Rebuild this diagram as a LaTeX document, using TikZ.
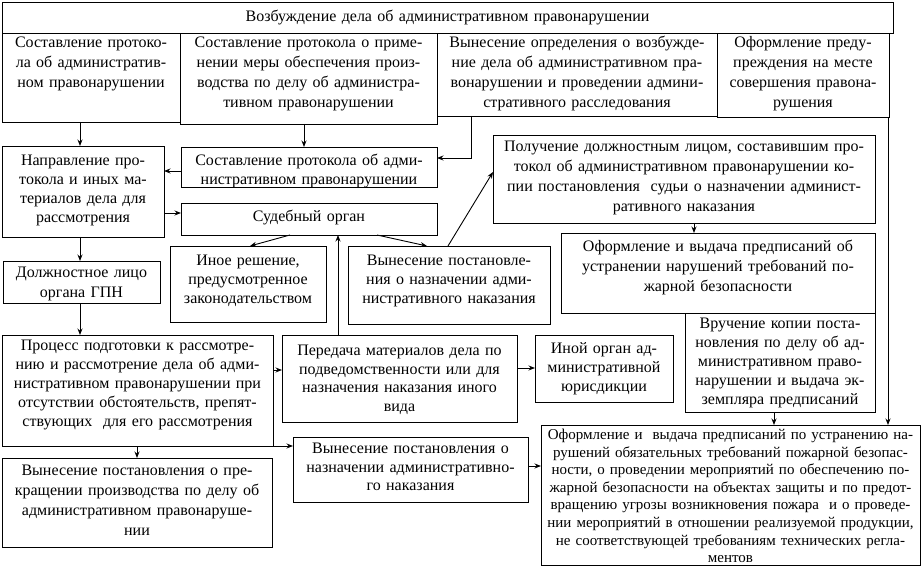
\documentclass[tikz,border=0pt]{standalone}
\usepackage{fontspec}
\setmainfont{Liberation Serif}
\usetikzlibrary{arrows.meta,calc}
\begin{document}
\begin{tikzpicture}[x=1pt,y=-1pt,
  bx/.style={draw, line width=0.9pt, inner sep=0pt, outer sep=0pt, anchor=north west},
  tx/.style={align=center, text width=430pt, inner sep=0pt, anchor=base},
  arr/.style={line width=0.9pt, -{Stealth[length=6.5pt,width=5pt]}},
  fa/.style={font=\fontsize{16}{20}\selectfont},
  fb/.style={font=\fontsize{16}{19}\selectfont},
  fc/.style={font=\fontsize{16}{18.5}\selectfont},
  fj/.style={font=\fontsize{15}{17.6}\selectfont}]
\useasboundingbox (0,0) rectangle (922,567);
% boxes
\node[bx, minimum width=891pt, minimum height=31pt] (top) at (2,2) {};
\node[bx, minimum width=178pt, minimum height=89pt] (A) at (2,33) {};
\node[bx, minimum width=257pt, minimum height=91pt] (B) at (180,33) {};
\node[bx, minimum width=280pt, minimum height=83pt] (C) at (437,33) {};
\node[bx, minimum width=172pt, minimum height=84pt] (D) at (717,33) {};
\node[bx, minimum width=162pt, minimum height=91pt] (E) at (2,146) {};
\node[bx, minimum width=256pt, minimum height=40pt] (F) at (181,147) {};
\node[bx, minimum width=256pt, minimum height=32pt] (S) at (181,203) {};
\node[bx, minimum width=382pt, minimum height=88pt] (G) at (493,135) {};
\node[bx, minimum width=314pt, minimum height=80pt] (H) at (561,233) {};
\node[bx, minimum width=156pt, minimum height=76pt] (N) at (170,246) {};
\node[bx, minimum width=202pt, minimum height=78pt] (V) at (348,246) {};
\node[bx, minimum width=157pt, minimum height=42pt] (Dl) at (3,261) {};
\node[bx, minimum width=190pt, minimum height=99pt] (I) at (685,313) {};
\node[bx, minimum width=271pt, minimum height=111pt] (P) at (2,335) {};
\node[bx, minimum width=235pt, minimum height=87pt] (T) at (282,335) {};
\node[bx, minimum width=138pt, minimum height=67pt] (O) at (535,335) {};
\node[bx, minimum width=235pt, minimum height=65pt] (K) at (293,437) {};
\node[bx, minimum width=270pt, minimum height=89pt] (L) at (2,458) {};
\node[bx, minimum width=379pt, minimum height=140pt] (J) at (541,425) {};
% texts
\node[tx, fa] (topt) at (447.5,22) {Возбуждение дела об административном правонарушении};
\node[tx, fa] (At) at (91,48) {Составление протоко-\\ла об административ-\\ном правонарушении};
\node[tx, fa] (Bt) at (308.5,48) {Составление протокола о приме-\\нении меры обеспечения произ-\\водства по делу об администра-\\тивном правонарушении};
\node[tx, fa] (Ct) at (577,48) {Вынесение определения о возбужде-\\ние дела об административном пра-\\вонарушении и проведении админи-\\стративного расследования};
\node[tx, fa] (Dt) at (803,48) {Оформление преду-\\преждения на месте\\совершения правона-\\рушения};
\node[tx, fb] (Et) at (83,165.5) {Направление про-\\токола и иных ма-\\териалов дела для\\рассмотрения};
\node[tx, fb] (Ft) at (309,166) {Составление протокола об адми-\\нистративном правонарушении};
\node[tx, fa] (St) at (309,222) {Судебный орган};
\node[tx, fa] (Gt) at (684,151.5) {Получение должностным лицом, составившим про-\\токол об административном правонарушении ко-\\пии постановления~ судьи о назначении админист-\\ративного наказания};
\node[tx, fa] (Ht) at (718,251.5) {Оформление и выдача предписаний об\\устранении нарушений требований по-\\жарной безопасности};
\node[tx, fb] (Nt) at (248,265.5) {Иное решение,\\предусмотренное\\законодательством};
\node[tx, fb] (Vt) at (449,265.5) {Вынесение постановле-\\ния о назначении адми-\\нистративного наказания};
\node[tx, fa] (Dlt) at (81.5,277) {Должностное лицо\\органа ГПН};
\node[tx, fb] (It) at (780,328.5) {Вручение копии поста-\\новления по делу об ад-\\министративном право-\\нарушении и выдача эк-\\земпляра предписаний};
\node[tx, fb] (Pt) at (137.5,350.5) {Процесс подготовки к рассмотре-\\нию и рассмотрение дела об адми-\\нистративном правонарушении при\\отсутствии обстоятельств, препят-\\ствующих~ для его рассмотрения};
\node[tx, fc] (Tt) at (399.5,355.5) {Передача материалов дела по\\подведомственности или для\\назначения наказания иного\\вида};
\node[tx, fb] (Ot) at (604,353.5) {Иной орган ад-\\министративной\\юрисдикции};
\node[tx, fc] (Kt) at (410.5,453.5) {Вынесение постановления о\\назначении административно-\\го наказания};
\node[tx, fa] (Lt) at (137,475.5) {Вынесение постановления о пре-\\кращении производства по делу об\\административном правонаруше-\\нии};
\node[tx, fj] (Jt) at (730.5,439.5) {Оформление и~ выдача предписаний по устранению на-\\рушений обязательных требований пожарной безопас-\\ности, о проведении мероприятий по обеспечению по-\\жарной безопасности на объектах защиты и по предот-\\вращению угрозы возникновения пожара~ и о проведе-\\нии мероприятий в отношении реализуемой продукции,\\не соответствующей требованиям технических регла-\\ментов};
% helper coordinates
\coordinate (c80) at (80,0);
\coordinate (c304) at (304,0);
\coordinate (c471) at (471,0);
\coordinate (c290) at (290,0);
\coordinate (c250) at (250,0);
\coordinate (c377) at (377,0);
\coordinate (c427) at (427,0);
\coordinate (c338) at (338,0);
\coordinate (c448) at (448,0);
\coordinate (c694) at (694,0);
\coordinate (c774) at (774,0);
\coordinate (c888) at (888,0);
\coordinate (c137) at (137,0);
\coordinate (r158) at (0,158);
\coordinate (r171) at (0,171);
\coordinate (r213) at (0,213);
\coordinate (r172) at (0,172);
\coordinate (r370) at (0,370);
\coordinate (r368) at (0,368);
\coordinate (r466) at (0,466);
% connectors
\draw[arr] (A.south -| c80) -- (E.north -| c80);
\draw[arr] (B.south -| c304) -- (F.north -| c304);
\draw[arr] (C.south -| c471) |- (F.east |- r158);
\draw[arr] (F.west |- r171) -- (E.east |- r171);
\draw[arr] (E.east |- r213) -- (S.west |- r213);
\draw[arr] (E.south -| c80) -- (Dl.north -| c80);
\draw[arr] (Dl.south -| c80) -- (P.north -| c80);
\draw[arr] (S.south -| c290) -- (N.north -| c250);
\draw[arr] (S.south -| c377) -- (V.north -| c427);
\draw[arr] (T.north -| c338) -- (S.south -| c338);
\draw[arr] (V.north -| c448) -- (G.west |- r172);
\draw[arr] (G.south -| c694) -- (H.north -| c694);
\draw[arr] (I.south -| c774) -- (J.north -| c774);
\draw[arr] (D.south -| c888) -- (J.north -| c888);
\draw[arr] (P.east |- r370) -- (T.west |- r370);
\draw[arr] (T.east |- r368) -- (O.west |- r368);
\draw[arr] (P.south east) -- (P.south east -| K.west);
\draw[arr] (P.south -| c137) -- (L.north -| c137);
\draw[arr] (K.east |- r466) -- (J.west |- r466);
\end{tikzpicture}
\end{document}
